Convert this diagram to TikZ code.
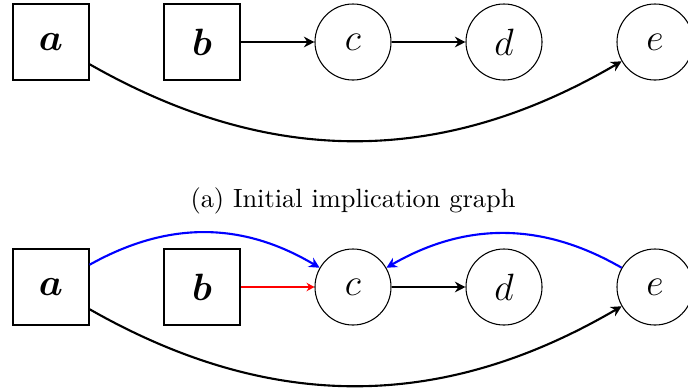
\documentclass[tikz,border=0pt]{standalone}
\usepackage{bm}
\usetikzlibrary{arrows.meta}
\begin{document}
\begin{tikzpicture}[x=0.3788pt,y=-0.3788pt,
  boxnode/.style={draw, thin, minimum size=28.8pt, inner sep=0pt, font=\fontsize{13.5}{16}\selectfont},
  circnode/.style={draw, thin, circle, minimum size=28.8pt, inner sep=0pt, font=\fontsize{13.5}{16}\selectfont},
  blk/.style={thick, -{Stealth[length=4pt,width=4pt]}},
  blu/.style={thick, blue, -{Stealth[length=4pt,width=4pt]}},
  rd/.style={thin, red, -{Stealth[length=3pt,width=3.2pt]}}]
\useasboundingbox (0,0) rectangle (688,391);
% top graph
\node[boxnode] (a1) at (51,42) {$\bm{a}$};
\node[boxnode] (b1) at (202,42) {$\bm{b}$};
\node[circnode] (c1) at (353,42) {$c$};
\node[circnode] (d1) at (504,42) {$d$};
\node[circnode] (e1) at (655,42) {$e$};
\draw[blk] (b1) -- (c1);
\draw[blk] (c1) -- (d1);
\draw[blk] (a1) to[bend right=30] (e1);
\node (cap) at (353,201) {(a) Initial implication graph};
% bottom graph
\node[boxnode] (a2) at (51,287) {$\bm{a}$};
\node[boxnode] (b2) at (202,287) {$\bm{b}$};
\node[circnode] (c2) at (353,287) {$c$};
\node[circnode] (d2) at (504,287) {$d$};
\node[circnode] (e2) at (655,287) {$e$};
\draw[rd] (b2) -- (c2);
\draw[blk] (c2) -- (d2);
\draw[blk] (a2) to[bend right=30] (e2);
\draw[blu] (a2) to[bend left=30] (c2);
\draw[blu] (e2) to[bend right=30] (c2);
\end{tikzpicture}
\end{document}
